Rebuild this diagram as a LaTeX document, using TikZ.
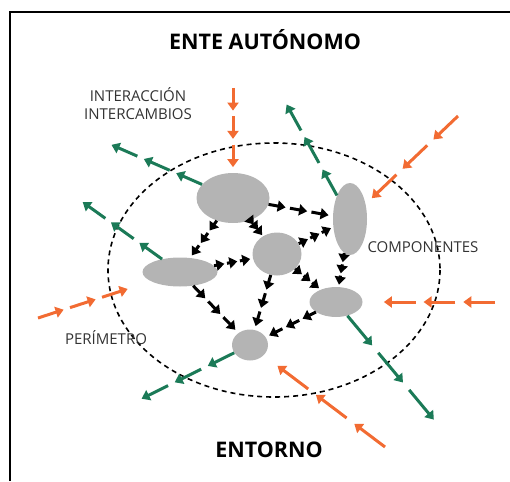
\documentclass[tikz,border=0pt]{standalone}
\usepackage{fontspec}
\setmainfont{Open Sans}
\usetikzlibrary{arrows.meta,calc,shapes.geometric}
\definecolor{grn}{HTML}{1B7A57}
\definecolor{org}{HTML}{F26B32}
\definecolor{blobgray}{HTML}{B4B4B4}
\definecolor{labelgray}{HTML}{333333}
% \chain[end pos]{style}{from}{to}: three short arrows in a row
\newcommand\chain[4][1]{%
  \path (#3) -- (#4) coordinate[pos=0] (cS) coordinate[pos=#1] (cT);
  \foreach \k in {0,1,2}{\draw[#2] ($(cS)!{\k/3}!(cT)$) -- ($(cS)!{(\k+0.8)/3}!(cT)$);}%
}
\begin{document}
\begin{tikzpicture}[x=1pt,y=-1pt,
  blob/.style={ellipse, fill=blobgray, draw=none, inner sep=0pt},
  arrbase/.style={line width=3pt, -{Triangle[length=8pt,width=11pt]}},
  karr/.style={arrbase, black},
  garr/.style={arrbase, grn},
  oarr/.style={arrbase, org},
  small/.style={font=\fontsize{15}{18}\selectfont, text=labelgray, align=center, inner sep=0pt},
  title/.style={font=\bfseries\fontsize{21.5}{24}\selectfont, text=black, inner sep=0pt}]
\useasboundingbox (0,0) rectangle (510,481);
\draw[line width=1.2pt] (10,481) -- (10,12) -- (510,12);
% perimeter
\draw[line width=1.6pt, dash pattern=on 5pt off 4pt] (274,270) ellipse [x radius=166, y radius=127];
% components
\node[blob, minimum width=73pt, minimum height=50pt] (A) at (233,198) {};
\node[blob, minimum width=34pt, minimum height=72pt] (B) at (350,219) {};
\node[blob, minimum width=49pt, minimum height=43pt] (C) at (277,254) {};
\node[blob, minimum width=75pt, minimum height=29pt] (D) at (180,272) {};
\node[blob, minimum width=53pt, minimum height=30pt] (E) at (336,302) {};
\node[blob, minimum width=36pt, minimum height=31pt] (F) at (250,345) {};
% internal connectors
\chain{karr}{A}{B}
\chain{karr}{A}{D}
\chain{karr}{A}{C}
\chain{karr}{D}{C}
\chain{karr}{C}{B}
\chain{karr}{B}{E}
\chain{karr}{C}{E}
\chain{karr}{C}{F}
\chain{karr}{D}{F}
\chain{karr}{E}{F}
% free ends
\coordinate (g1) at (105,142);
\coordinate (g2) at (77,198);
\coordinate (g3) at (283,98);
\coordinate (g4) at (440,427);
\coordinate (g5) at (135,402);
\coordinate (o1) at (233,88);
\coordinate (o2) at (458,116);
\coordinate (o3) at (495,302);
\coordinate (o4) at (385,447);
\coordinate (o5) at (38,318);
% outgoing (green)
\chain{garr}{A}{g1}
\chain{garr}{D}{g2}
\chain{garr}{B}{g3}
\chain{garr}{E}{g4}
\chain{garr}{F}{g5}
% incoming (orange)
\chain{oarr}{o1}{A}
\chain{oarr}{o2}{B}
\chain[0.9]{oarr}{o3}{E}
\chain[0.95]{oarr}{o4}{F}
\chain[0.85]{oarr}{o5}{D}
% labels
\node[title] (t1) at (265,40) {ENTE AUTÓNOMO};
\node[title] (t2) at (269,450) {ENTORNO};
\node[small] (l1) at (138,104) {INTERACCIÓN\\INTERCAMBIOS};
\node[small] (l2) at (423,247) {COMPONENTES};
\node[small] (l3) at (106,338) {PERÍMETRO};
\end{tikzpicture}
\end{document}
